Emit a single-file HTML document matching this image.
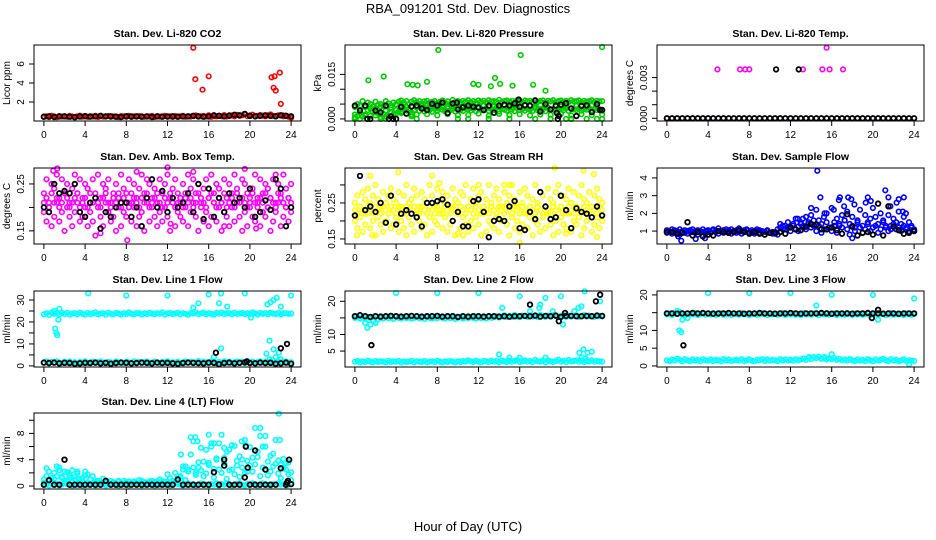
<!DOCTYPE html>
<html><head><meta charset="utf-8"><style>
html,body{margin:0;padding:0;background:#fff;}
svg{display:block;font-family:"Liberation Sans",sans-serif;}
</style></head><body>
<svg id="chart" width="936" height="540" viewBox="0 0 936 540" xmlns="http://www.w3.org/2000/svg">
<text x="468" y="13" text-anchor="middle" font-size="13">RBA_091201  Std. Dev. Diagnostics</text>
<text x="468" y="531" text-anchor="middle" font-size="13">Hour of Day (UTC)</text>
</svg>
<script>
// ---------- shared ----------
const X_TICKS = [0,4,8,12,16,20,24];
const X_LABELS = ["0","4","8","12","16","20","24"];
// ---------- CO2 ----------
const CO2_RED = [.45,.5,.42,.55,.48,.4,.52,.46,.5,.44,.53,.47,.41,.5,.56,.45,.49,.43,.51,.47,.55,.42,.5,.46,.48,.53,.44,.5,.47,.41,.52,.49,.45,.55,.43,.5,.46,.52,.48,.44,.51,.47,.53,.42,.49,.46,.5,.54,.45,.48,.43,.52,.47,.5,.55,.44,.49,.46,.51,.58,.45,.5,.53,.47,.6,.44,.52,.48,.55,.5,.62,.47,.53,.58,.5,.65,.55,.6,.7,.52,.58,.66,.5,.55,.62,.57,.5,.6,.68,.55,.52,.6,.58,.5,.55,.45,.35];
const CO2_RED_OUT = [[14.5,7.7],[14.7,4.4],[15.4,3.3],[16,4.7],[22.1,4.6],[22.4,4.7],[22.3,3.5],[22.5,3.2],[22.9,5.1],[23,1.8],[23.2,0.6]];
const CO2_BLACK = [.45,.5,.42,.48,.5,.45,.4,.47,.52,.46,.5,.55,.48,.5,.45,.42,.5,.47,.5,.45,.48,.42,.5,.45,.47,.5,.45,.48,.5,.55,.5,.45,.48,.6,.55,.5,.58,.65,.6,.75,.55,.5,.55,.6,.55,.5,.6,.55,.5];
const CO2_TICKS = [2,4,6];
const CO2_LABELS = ["2","4","6"];
// ---------- Pressure ----------
const PR_GREEN_A = [.004,.005,.0045,.006,.004,.0055,.005,.0042,.0058,.0048,.005,.0044,.006,.0052,.0046,.0055,.005,.0058,.0062,.0055,.006,.005,.0058,.0063,.0056,.006,.0052,.0059,.0061,.0054,.0057,.006,.0053,.0058,.0062,.0055,.0059,.0051,.0064,.0057,.006,.0055,.0061,.0058,.0063,.0056,.006,.0054,.0062,.0058,.0061,.0055,.0063,.0059,.006,.0057,.0064,.0056,.006,.0062,.0058,.0061,.0055,.0063,.006,.0057,.0062,.0059,.0061,.0056,.0063,.0058,.006,.0062,.0057,.0061,.0059,.0063,.0056,.006,.0062,.0058,.0061,.0057,.0063,.0059,.006,.0062,.0056,.0061,.0058,.006,.0063,.0057,.0061,.0059,.006];
const PR_GREEN_B = [.0005,.001,.002,.0008,.0015,.003,.001,.0025,.0012,.002,.0006,.0018,.0028,.001,.0022,.0015,.003,.0025,.002,.0035,.0028,.0032,.0022,.003,.0038,.0027,.0033,.0025,.0036,.003,.0024,.0034,.0028,.0037,.0031,.0026,.0035,.0029,.0033,.0025,.0038,.003,.0027,.0036,.0032,.0028,.0034,.0026,.0037,.0031,.0029,.0035,.0027,.0033,.003,.0038,.0025,.0034,.0031,.0028,.0036,.0032,.0026,.0037,.003,.0033,.0028,.0035,.0031,.0027,.0036,.0029,.0034,.0032,.0026,.0037,.003,.0033,.0028,.0035,.0031,.0029,.0036,.0027,.0034,.0032,.003,.0035,.0028,.0033,.0031,.0036,.0029,.0034,.003,.0032,.0028];
const PR_GREEN_C = [0,.002,.0045,.001,.0035,0,.0042,.002,.0048,.0025,.004,.0015,.0045,.0038,.0044,.004,.0035,.0045,.0042,.0048,.004,.0045,.0038,.005,.0042,.0046,.004,.0044,.0039,.0047,.0043,.0045,.0041,.0048,.0044,.004,.0046,.0042,0,.0045,.0041,.0047,0,.0044,.0046,.004,.0045,.0042,0];
const PR_GREEN_D = [.0015,.003,.0012,.0035,.0022,.0042,.0008,.0038,.0018,.0047,.0041,.0009,.0015,.0044,.0016,.0047,.0012,.0041,.0016,.0043,.0013,.0046,.0014,.0044,.0018,.0045,.0011,.0042,.0017,.0048,.0013,.0043,.0016,.0046,.0012,.0044,.0015,.0047,.0014,.0043,.0017,.0045,.0012,.0046,.0016,.0044,.0013,.0047,.0015];
const PR_GREEN_OUT = [[1.3,.013],[2.8,.0143],[5.1,.0117],[5.6,.0115],[6.1,.0113],[7,.0125],[8.1,.0232],[11.5,.0118],[12,.0115],[13.2,.011],[13.6,.0138],[14.1,.0118],[15.3,.0112],[16.1,.0215],[17.3,.0115],[18.5,.0095],[24,.0242],[0,0],[0.5,0],[3,0],[4,0],[6,0],[10,0],[11,0],[13,0],[15,0],[17.5,0],[20.5,0],[21,0],[22.5,0],[23.5,0],[19,0]];
const PR_BLACK = [.0045,.0028,.0045,0,.0028,.0022,.0045,.0008,0,.004,.0018,.0042,.0045,.0035,.003,.0051,.0045,.0055,.002,.0052,.0032,.0039,.0045,.0041,.0038,.003,.0045,.0021,.0045,.0048,.0045,.0052,.004,.0046,.0045,.0062,.0025,.005,.0032,.0045,.0048,.0053,.0035,.001,.0044,.0046,.0023,.005,.003];
const PR_BLACK_OUT = [[1.2,0],[3.3,0],[3.7,0],[19.7,0],[19.8,.001],[19.6,.002],[15.9,.0065],[9.9,.0055],[23.8,.003]];
const PR_TICKS = [0,.005,.01,.015];
const PR_LABELS = ["0.000","","","0.015"];
// ---------- Li-820 Temp ----------
const TP_MAG = [0,0,0,0,0,0,0,0,0,0,0,0,0,0,0,0,0,0,0,0,0,0,0,0,0,0,0,0,0,0,0,0,0,0,0,0,0,0,0,0,0,0,0,0,0,0,0,0,0];
const TP_MAG_OUT = [[4.9,.0036],[7.1,.0036],[7.6,.0036],[8,.0036],[13.2,.0036],[15.1,.0036],[15.5,.0052],[15.8,.0036],[17.1,.0036]];
const TP_BLACK = [0,0,0,0,0,0,0,0,0,0,0,0,0,0,0,0,0,0,0,0,0,0,0,0,0,0,0,0,0,0,0,0,0,0,0,0,0,0,0,0,0,0,0,0,0,0,0,0,0];
const TP_BLACK_OUT = [[10.6,.0036],[12.8,.0036]];
const TP_TICKS = [0,.001,.002,.003];
const TP_LABELS = ["0.000","","","0.003"];
// ---------- Amb box temp ----------
const AB_MAG_A = [.23,.26,.21,.25,.24,.27,.22,.26,.23,.25,.21,.24,.27,.23,.26,.22,.25,.24,.21,.26,.23,.27,.22,.25,.24,.26,.21,.23,.25,.22,.27,.24,.23,.26,.21,.25,.22,.24,.27,.23,.26,.25,.22,.24,.21,.26,.23,.25,.27,.22,.24,.26,.23,.21,.25,.22,.27,.24,.26,.23,.25,.21,.24,.26,.22,.27,.23,.25,.24,.21,.26,.22,.25,.23,.27,.24,.22,.26,.25,.23,.21,.24,.27,.22,.26,.23,.25,.24,.22,.26,.21,.25,.23,.27,.24,.22,.25];
const AB_MAG_B = [.19,.17,.2,.16,.18,.21,.17,.19,.15,.2,.18,.16,.19,.21,.17,.18,.2,.16,.19,.17,.14,.2,.18,.16,.21,.19,.17,.18,.15,.2,.16,.19,.18,.21,.17,.2,.16,.18,.19,.15,.21,.17,.2,.18,.16,.19,.17,.2,.18,.15,.21,.16,.19,.18,.17,.2,.16,.19,.21,.18,.15,.2,.17,.19,.16,.18,.21,.17,.2,.15,.19,.18,.16,.2,.17,.21,.18,.15,.19,.16,.2,.18,.17,.21,.16,.19,.18,.2,.15,.17,.19,.21,.16,.18,.2,.17,.19];
const AB_MAG_C = [.21,.22,.2,.23,.21,.22,.2,.21,.23,.22,.2,.21,.22,.23,.2,.21,.22,.2,.23,.21,.22,.21,.2,.22,.23,.21,.2,.22,.21,.23,.2,.22,.21,.2,.23,.22,.21,.2,.22,.21,.23,.2,.21,.22,.23,.21,.2,.22,.21,.23,.22,.2,.21,.22,.2,.23,.21,.22,.2,.21,.23,.22,.21,.2,.22,.23,.21,.2,.22,.21,.23,.2,.21,.22,.2,.23,.21,.22,.21,.2,.22,.23,.21,.2,.22,.21,.23,.2,.22,.21,.2,.23,.22,.21,.2,.22,.21];
const AB_MAG_OUT = [[0.9,.278],[1.3,.283],[9,.276],[14.5,.276],[12,.285],[8.1,.13],[12.3,.165],[5.5,.145],[17.5,.16],[20.6,.155],[22.5,.27],[19.5,.282]];
const AB_BLACK = [.2,.19,.25,.23,.235,.23,.25,.19,.18,.21,.22,.155,.19,.18,.2,.21,.21,.18,.2,.16,.22,.26,.2,.235,.19,.22,.2,.21,.23,.19,.25,.175,.24,.18,.22,.19,.23,.21,.22,.2,.24,.18,.19,.215,.195,.26,.24,.16,.2];
const AB_TICKS = [.15,.2,.25];
const AB_LABELS = ["0.15","","0.25"];
// ---------- Gas stream RH ----------
const RH_YEL_A = [.25,.27,.24,.28,.26,.29,.25,.27,.3,.26,.24,.28,.25,.27,.29,.26,.25,.28,.24,.27,.3,.25,.26,.29,.27,.24,.28,.26,.25,.3,.27,.24,.29,.26,.28,.25,.27,.24,.29,.26,.25,.28,.27,.3,.24,.26,.29,.25,.27,.28,.24,.26,.3,.25,.27,.29,.26,.24,.28,.25,.27,.3,.26,.24,.28,.25,.29,.27,.24,.26,.3,.25,.28,.27,.24,.29,.26,.25,.28,.3,.24,.27,.26,.29,.25,.28,.24,.27,.3,.26,.25,.28,.24,.27,.29,.26,.25];
const RH_YEL_B = [.2,.18,.21,.17,.19,.22,.18,.2,.16,.21,.19,.17,.2,.22,.18,.19,.21,.17,.2,.18,.16,.21,.19,.17,.22,.2,.18,.19,.16,.21,.17,.2,.19,.22,.18,.21,.17,.19,.2,.16,.22,.18,.21,.19,.17,.2,.18,.21,.19,.16,.22,.17,.2,.19,.18,.21,.17,.2,.22,.19,.16,.21,.18,.2,.17,.19,.22,.18,.21,.16,.2,.19,.17,.21,.18,.22,.19,.16,.2,.17,.21,.19,.18,.22,.17,.2,.19,.21,.16,.18,.2,.22,.17,.19,.21,.18,.2];
const RH_YEL_C = [.23,.22,.24,.23,.22,.24,.23,.22,.24,.23,.22,.24,.23,.22,.24,.23,.22,.24,.23,.22,.24,.23,.22,.24,.23,.22,.24,.23,.22,.24,.23,.22,.24,.23,.22,.24,.23,.22,.24,.23,.22,.24,.23,.22,.24,.23,.22,.24,.23,.22,.24,.23,.22,.24,.23,.22,.24,.23,.22,.24,.23,.22,.24,.23,.22,.24,.23,.22,.24,.23,.22,.24,.23,.22,.24,.23,.22,.24,.23,.22,.24,.23,.22,.24,.23,.22,.24,.23,.22,.24,.23,.22,.24,.23,.22,.24,.23];
const RH_YEL_OUT = [[1.5,.325],[4.2,.335],[7.5,.325],[8.2,.305],[12,.3],[14.5,.3],[15,.3],[16,.14],[22.2,.34],[23.2,.33],[19.4,.347],[0.2,.16],[1.7,.16],[10,.165],[10.5,.16],[20.5,.165],[23.5,.155]];
const RH_BLACK = [.215,.325,.23,.24,.225,.25,.195,.27,.19,.22,.23,.22,.21,.185,.25,.25,.255,.26,.245,.2,.225,.185,.185,.255,.26,.225,.155,.2,.205,.2,.24,.255,.18,.175,.225,.205,.28,.24,.205,.21,.27,.23,.18,.235,.225,.22,.21,.24,.215];
const RH_TICKS = [.15,.2,.25,.3];
const RH_LABELS = ["0.15","","0.25",""];
// ---------- Sample flow ----------
const SF_BLUE_A = [.9,1,.85,1.05,.95,.8,1,.9,.85,1.05,.95,.9,.8,1,.95,.85,1,.9,1.05,.95,.85,1,.9,.95,1.05,.85,1,.9,.95,.85,1,1.05,.9,.95,.85,1,.9,.95,.8,1,.9,.85,.95,.8,1.2,1.1,1.3,1.2,1,1.4,1.1,1.25,1.5,1.3,1.1,1.4,1.2,1.6,1,1.3,.9,1.1,1.5,1.2,1,1.3,.9,1.4,1.2,1.6,1.1,.8,1.3,1,1.5,1.2,.9,1.1,1.4,1,1.2,1.3,.9,1.1,1.5,1.2,1,1.3,1.4,1.1,1.2,1,1.3,1.1,1,1.2,1.05];
const SF_BLUE_B = [1.05,.95,1.1,.9,1,1.1,.95,1.05,1,.95,1.1,1,1.05,.95,1.1,1,1.05,.95,1.1,1,1.15,1,1.05,1.1,.95,1.1,1,1.05,1.15,1,1.05,1.1,.95,1.05,1,1.1,1.05,1,.95,1.05,.9,.95,.85,1.1,1.4,1.3,1.1,1.5,1.2,1.3,1.7,1,1.4,1.2,1.8,1.5,1.9,1.3,2.2,1.6,1.4,1.8,2,1.2,2.3,1.5,1.7,1.3,1.9,1.6,2.1,1.4,1.8,1.2,1.6,2.2,1.3,1.9,1.5,1.7,1.2,1.8,1.4,2,1.6,1.3,1.9,1.1,1.7,1.5,2.1,1.4,1.8,1.2,1.5,1.3,1.1];
const SF_BLUE_OUT = [[14.6,4.4],[14.9,2.9],[16.8,2.9],[16.7,2.75],[17.6,2.9],[17.9,2.8],[18.2,2.5],[19.5,2.9],[19.3,2.6],[19.8,2.7],[21.2,3.3],[21.5,2.9],[21.7,2.4],[22.5,2.8],[22.3,2.6],[23,2.9],[22.9,2.1],[23.2,2],[14,2.3],[15.3,2],[16.2,2.2],[17.2,2.4],[20,2.3],[13.2,1.7],[18,.6],[1.4,.45],[2.8,.55],[1.1,.7],[3.7,.6],[12.7,1.7]];
const SF_BLACK = [.95,.95,.85,.9,1.5,.75,.95,.7,.8,.75,1,.95,.9,.95,1.05,.95,.85,.95,.85,.8,.9,.9,.95,.85,1.2,1.1,1.05,1.25,1.4,1.35,1.1,1.1,1.2,1.05,.85,1.95,1.25,.75,.9,.95,.8,2.55,.75,2.4,1.25,1.05,.85,.9,1];
const SF_TICKS = [1,2,3,4];
const SF_LABELS = ["1","2","3","4"];
// ---------- Line 1 ----------
const L1_CYAN_U = [23.5,24,23.2,24.3,23.7,23.9,23.4,24.1,23.6,24.2,23.3,23.8,24,23.5,24.2,23.7,23.4,24.1,23.6,23.9,24.3,23.5,23.8,24,23.3,24.2,23.7,23.5,24.1,23.8,23.4,24,23.6,24.3,23.7,23.5,24.1,23.9,23.4,24,23.6,24.2,23.8,23.5,24,23.7,24.3,23.4,23.9,24.1,23.6,23.8,24.2,23.5,24,23.7,23.3,24.1,23.8,24.4,23.6,23.9,24.2,23.5,24,23.7,23.4,24.1,23.8,24.3,23.6,23.9,24,23.5,24.2,23.7,23.8,24.1,23.5,24,23.6,24.3,23.9,23.4,24.1,23.7,24,23.5,24.2,23.8,23.6,24.1,23.4,23.9,24,23.7,23.8];
const L1_CYAN_L = [1.5,2,1.2,1.8,1.4,2.1,1.6,1.3,1.9,1.5,2,1.4,1.7,1.2,1.8,1.5,2.1,1.3,1.6,1.9,1.4,1.7,2,1.5,1.2,1.8,1.6,1.4,2,1.5,1.7,1.3,1.9,1.6,1.4,2.1,1.5,1.8,1.3,1.7,2,1.4,1.6,1.9,1.5,1.2,1.8,1.6,2.1,1.4,1.7,1.5,1.9,1.3,1.6,2,1.5,1.8,1.4,1.7,2.2,1.5,1.9,1.6,1.3,2,1.7,1.4,1.8,1.5,2.1,1.6,1.9,1.4,1.7,2,1.5,1.8,1.3,2.2,1.6,1.9,1.4,1.7,2.1,1.5,1.8,1.6,2,1.4,1.7,1.5,1.9,1.6,1.8,1.5,1.7];
const L1_CYAN_OUT = [[1.1,17],[1.2,15],[1.3,14],[1.0,25],[1.5,26],[1.4,21],[4.3,33],[8,32],[12,32],[16,32.5],[17.2,33],[19.5,33],[14.5,26.5],[15,28.5],[17,28.5],[17.8,27],[17.2,8],[16.5,4],[20.1,22],[21.7,28],[22,29],[22.3,30],[22.6,31],[23,27],[21.9,11.5],[22.3,7.5],[21.6,5.5],[22.5,4],[23,3],[23.5,2],[24,32],[22.8,6],[21.9,3]];
const L1_BLACK = [1.5,1.3,1.5,1.2,1.4,1.3,1,1.2,1.4,1.3,1.5,1.2,1.4,1,1.3,1.5,1.4,1.2,1.3,1.5,1.4,1.2,1.5,1.3,1.4,1.2,1,1.3,1.5,1.4,1.3,1.2,1.5,1.4,.8,1.3,1.5,1.2,1.4,1.6,1.3,1.2,1.5,1.3,1.4,1,1.2,1.5,1];
const L1_BLACK_OUT = [[16.7,6],[23,8],[23.6,10],[19.7,2]];
const L1_TICKS = [0,5,10,15,20,25,30];
const L1_LABELS = ["0","","10","","20","","30"];
// ---------- Line 2 ----------
const L2_CYAN_U = [15,15.3,14.8,15.1,14.7,15.2,14.9,15.3,13.5,14.6,15,14.8,15.2,14.9,15.1,14.7,15.3,15,14.8,15.2,14.9,15.1,14.8,15,15.3,14.9,15.1,14.7,15.2,15,14.8,15.1,14.9,15.3,15,14.8,15.2,14.9,15.1,14.7,15,15.2,14.8,15.1,14.9,15.3,15,14.8,15.2,14.9,15.1,14.8,15.3,15,15.2,15.5,15.1,15.4,15.8,15.2,15.6,15.3,15.9,15.4,15.2,15.7,15.5,15.3,15.8,15.4,15.6,15.2,15.9,15.5,15.3,15.7,15.4,15.8,15.6,15.2,15.5,15.9,15.3,15.7,15.4,15.6,15.8,15.3,15.5,15.9,15.4,15.7,15.5,15.3,15.8,15.6,15.4];
const L2_CYAN_L = [1.8,2,1.6,1.9,1.7,2.1,1.8,1.6,2,1.7,1.9,1.8,1.6,2.1,1.7,1.9,1.8,2,1.6,1.9,1.7,1.8,2.1,1.6,1.9,1.8,1.7,2,1.6,1.8,1.9,1.7,2.1,1.8,1.6,1.9,1.7,2,1.8,1.6,1.9,1.7,2,1.8,2.2,1.9,1.7,2.1,1.8,1.6,2,1.9,1.7,2.1,1.8,2,1.6,2.2,1.9,1.7,2.1,1.8,2,2.3,1.7,1.9,2.2,1.8,2,1.7,2.3,1.9,1.8,2.1,1.6,2.2,1.9,1.7,2,2.4,1.8,2.1,1.7,2.3,1.9,2,2.2,1.8,2.1,1.7,2,1.9,2.2,1.8,2,1.9,1.8];
const L2_CYAN_OUT = [[1.2,12],[1.5,13],[1.0,13.5],[1.8,14],[4,22.5],[8,22.5],[12,22.5],[16,21.5],[18.5,21],[20,21.5],[22.3,23],[23.8,20],[14.3,18],[18,19],[17.9,18],[17,17],[19.2,17],[21.3,17],[21.7,18],[22,18.5],[20.2,13],[14,4],[15,3],[16,3],[18.5,3],[21.8,4.5],[22.2,5.5],[22.6,4.5],[23,4.8],[22,3],[22.4,2.8]];
const L2_BLACK = [15.5,15.8,15.5,15.3,15.5,15.4,15.5,15.6,15.5,15.4,15.5,15.6,15.5,15.4,15.5,15.5,15.6,15.4,15.5,15.5,15.3,15.5,15.4,15.5,15.5,15.4,15.5,15.5,15.4,15.5,15.4,15.5,15.5,15.6,15.5,15.7,15.4,15.6,15.5,15.7,15.3,15.6,15.6,15.5,15.5,15.6,15.5,15.7,15.6];
const L2_BLACK_OUT = [[1.6,6.8],[17,19],[23.4,20],[23.8,22],[19.8,14],[20.4,16.5]];
const L2_TICKS = [5,10,15,20];
const L2_LABELS = ["5","10","","20"];
// ---------- Line 3 ----------
const L3_CYAN_U = [14.5,14.8,14.3,14.9,14.6,15.2,14.4,14.2,13.5,14.7,14.5,14.9,14.3,14.6,14.8,14.4,14.7,14.5,14.9,14.3,14.6,14.8,14.4,14.7,14.5,14.3,14.8,14.6,14.4,14.9,14.5,14.7,14.3,14.6,14.8,14.4,14.5,14.9,14.6,14.3,14.7,14.5,14.8,14.4,14.6,14.9,14.3,14.7,14.5,14.8,14.4,14.6,14.3,14.9,14.5,14.7,14.4,14.8,14.6,14.3,14.7,14.5,14.9,14.4,14.6,14.8,14.3,14.7,14.5,14.4,14.9,14.6,14.3,14.8,14.5,14.7,14.4,14.6,14.9,14.3,14.5,14.7,14.4,14.8,14.6,14.3,14.5,14.9,14.4,14.7,14.5,14.6,14.3,14.8,14.5,14.4,14.6];
const L3_CYAN_L = [1.6,1.4,1.8,1.5,2,1.7,1.3,1.9,1.6,1.4,1.8,1.5,1.7,1.3,1.9,1.6,1.5,1.8,1.4,1.7,1.6,1.3,1.9,1.5,1.8,1.4,1.6,1.7,1.5,1.9,1.4,1.6,1.8,1.5,1.3,1.7,1.6,1.9,1.4,1.8,1.5,1.7,1.6,1.4,1.9,1.5,1.8,1.6,1.7,1.5,1.9,1.6,1.8,2.1,1.7,2.3,1.9,2.5,2.2,2.6,2,2.3,1.8,2.1,1.9,2.2,1.7,2,1.6,1.8,1.5,1.9,1.6,1.4,1.8,1.5,1.7,1.4,1.9,1.6,1.3,1.8,1.5,1.7,2,1.6,1.4,1.9,1.5,1.7,1.3,1.6,1.8,1.4,1.6,1.5,1.4];
const L3_CYAN_OUT = [[1.2,10],[1.4,9.5],[1,15.5],[1.5,13],[4,20.5],[8,20.5],[12,20.5],[16,20],[20,20],[24,19],[14.5,17],[20.5,13],[15.3,2.5],[16,3.3],[23.5,0.5],[13.8,2.5]];
const L3_BLACK = [14.8,14.8,14.7,14.8,14.8,14.9,14.8,14.9,14.8,14.7,14.8,14.8,14.9,14.8,14.8,14.7,14.8,14.8,14.9,14.8,14.8,14.7,14.8,14.8,14.9,14.8,14.7,14.8,14.8,14.8,14.9,14.8,14.7,14.8,14.8,14.8,14.7,14.8,14.8,14.9,14.8,14.8,14.7,14.8,14.8,14.7,14.8,14.8,14.8];
const L3_BLACK_OUT = [[1.6,5.8],[20.5,15.8],[19.9,13.5]];
const L3_TICKS = [0,5,10,15,20];
const L3_LABELS = ["0","5","10","","20"];
// ---------- Line 4 ----------
const L4_CYAN_L = [.2,.3,.1,.4,.2,.3,.1,.2,.4,.3,.2,.1,.3,.2,.4,.1,.3,.2,.2,.4,.1,.3,.2,.3,.1,.4,.2,.3,.2,.1,.4,.3,.2,.1,.3,.4,.2,.3,.1,.2,.4,.3,.2,.1,.3,.2,.4,.2,.3,.1,.2,.4,.3,.2,.1,.3,.4,.2,.3,.1,.2,.4,.3,.2,.1,.3,.2,.4,.1,.3,.2,.4,.3,.1,.2,.3,.4,.2,.1,.3,.2,.4,.3,.1,.2,.4,.3,.2,.1,.3,.2,.4,.2,.3,.1,.2,.3];
const L4_CYAN_A = [1,2.7,.8,1.2,2,1.5,2.8,1.4,2.2,.9,1.7,2.4,1,1.9,.6,1.2,2.2,1.8,1,1.5,.5,.8,.4,.3,.7,.5,.3,.6,.4,.8,.5,.3,.4,.7,.3,.6,.5,.4,.8,.3,.5,.7,.4,.6,.3,.5,.8,.4,.7,.5,.3,.6,.8,1.5,2.5,3,2.2,4.8,2.8,2,3.6,2.4,1.5,5.5,3.2,6,2.6,4,6.5,2,3.5,5.2,2.4,6.2,1.8,3.1,4.5,2.8,2,3.8,5.9,2.2,3.3,4.4,1.5,6,2.6,3.7,2.2,4.9,3.4,1.9,3.2,4.1,2.5,3.6,2.1];
const L4_CYAN_B = [.5,1.5,2.2,.7,1.1,3,2.4,1.2,.8,2.1,1.3,.6,1.4,2.2,1,.7,1.6,.5,1,.4,.8,.3,.6,1.1,.4,.3,.8,.5,.2,.7,.4,.8,.6,.3,.5,.7,.4,.9,.3,.6,.4,.5,.8,.3,.7,1,.4,.6,1.8,1.2,.8,2,1.5,1.2,3,.9,2.5,7.4,6.8,1.7,2.8,5.8,3.7,1.9,3.5,6.5,1.3,4.2,2.5,7.8,4.3,1.1,5.5,2.5,6.1,3.8,1.4,4,7,2.2,3.1,4.3,8.8,5.2,7.6,2.8,6,1.6,4.6,3,7,3.9,1.2,2.7,3.5,1.8,.9];
const L4_CYAN_OUT = [[22.8,11],[21,8.8],[19.2,6.8],[16,7.8],[14.7,7.4],[13.3,4.8],[16.5,6.5],[17.5,5.8],[21.5,7.6],[22.9,7],[19.6,6.2],[14.9,6.8]];
const L4_BLACK = [.2,.9,.2,.2,4,.2,.2,.2,.2,.2,.2,.2,.8,.2,.2,.2,.2,.2,.2,.2,.2,.2,.2,.2,.2,.2,1,.2,.2,.2,.2,.2,.2,2.1,.2,3.1,.2,.2,.2,1.3,.2,.2,.2,.2,.2,.2,2.7,.2,.3];
const L4_BLACK_OUT = [[17.5,4],[19.6,6],[19.8,2.8],[20.5,5.4],[21.5,2.5],[23.7,0.8],[23.8,4],[23.6,0.5]];
const L4_TICKS = [0,2,4,6,8,10];
const L4_LABELS = ["0","","4","","8",""];

// ---------- layout (not data) ----------
const COLS = [[34,301],[345,612],[657,924]];
const ROWS = [[45,121],[168,244],[291,367],[413,489]];
const PANELS = [
 {name:'co2',title:'Stan. Dev. Li-820 CO2',ylab:'Licor ppm',c:0,r:0,ylim:[0,8],ticks:CO2_TICKS,labels:CO2_LABELS,
  series:[{color:'#ff0000',arrays:[CO2_RED],out:CO2_RED_OUT},{color:'#000000',arrays:[CO2_BLACK],out:[]}]},
 {name:'pressure',title:'Stan. Dev. Li-820 Pressure',ylab:'kPa',c:1,r:0,ylim:[-0.0007,0.0249],ticks:PR_TICKS,labels:PR_LABELS,
  series:[{color:'#00cd00',arrays:[PR_GREEN_A,PR_GREEN_B,PR_GREEN_C,PR_GREEN_D],out:PR_GREEN_OUT},{color:'#000000',arrays:[PR_BLACK],out:PR_BLACK_OUT}]},
 {name:'li820-temp',title:'Stan. Dev. Li-820 Temp.',ylab:'degrees C',c:2,r:0,ylim:[-0.0002,0.0054],ticks:TP_TICKS,labels:TP_LABELS,
  series:[{color:'#ff00ff',arrays:[TP_MAG],out:TP_MAG_OUT},{color:'#000000',arrays:[TP_BLACK],out:TP_BLACK_OUT}]},
 {name:'amb-box-temp',title:'Stan. Dev. Amb. Box Temp.',ylab:'degrees C',c:0,r:1,ylim:[0.122,0.284],ticks:AB_TICKS,labels:AB_LABELS,
  series:[{color:'#ff00ff',arrays:[AB_MAG_A,AB_MAG_B,AB_MAG_C],out:AB_MAG_OUT},{color:'#000000',arrays:[AB_BLACK],out:[]}]},
 {name:'gas-stream-rh',title:'Stan. Dev. Gas Stream RH',ylab:'percent',c:1,r:1,ylim:[0.136,0.347],ticks:RH_TICKS,labels:RH_LABELS,
  series:[{color:'#ffff00',arrays:[RH_YEL_A,RH_YEL_B,RH_YEL_C],out:RH_YEL_OUT},{color:'#000000',arrays:[RH_BLACK],out:[]}]},
 {name:'sample-flow',title:'Stan. Dev. Sample Flow',ylab:'ml/min',c:2,r:1,ylim:[0.27,4.56],ticks:SF_TICKS,labels:SF_LABELS,
  series:[{color:'#0000ff',arrays:[SF_BLUE_A,SF_BLUE_B],out:SF_BLUE_OUT},{color:'#000000',arrays:[SF_BLACK],out:[]}]},
 {name:'line1-flow',title:'Stan. Dev. Line 1 Flow',ylab:'ml/min',c:0,r:2,ylim:[-0.5,34.1],ticks:L1_TICKS,labels:L1_LABELS,
  series:[{color:'#00ffff',arrays:[L1_CYAN_U,L1_CYAN_L],out:L1_CYAN_OUT},{color:'#000000',arrays:[L1_BLACK],out:L1_BLACK_OUT}]},
 {name:'line2-flow',title:'Stan. Dev. Line 2 Flow',ylab:'ml/min',c:1,r:2,ylim:[0.2,23.1],ticks:L2_TICKS,labels:L2_LABELS,
  series:[{color:'#00ffff',arrays:[L2_CYAN_U,L2_CYAN_L],out:L2_CYAN_OUT},{color:'#000000',arrays:[L2_BLACK],out:L2_BLACK_OUT}]},
 {name:'line3-flow',title:'Stan. Dev. Line 3 Flow',ylab:'ml/min',c:2,r:2,ylim:[-0.3,21.1],ticks:L3_TICKS,labels:L3_LABELS,
  series:[{color:'#00ffff',arrays:[L3_CYAN_U,L3_CYAN_L],out:L3_CYAN_OUT},{color:'#000000',arrays:[L3_BLACK],out:L3_BLACK_OUT}]},
 {name:'line4-flow',title:'Stan. Dev. Line 4 (LT) Flow',ylab:'ml/min',c:0,r:3,ylim:[-0.45,11.1],ticks:L4_TICKS,labels:L4_LABELS,
  series:[{color:'#00ffff',arrays:[L4_CYAN_L,L4_CYAN_A,L4_CYAN_B],out:L4_CYAN_OUT},{color:'#000000',arrays:[L4_BLACK],out:L4_BLACK_OUT}]}
];

const NS = 'http://www.w3.org/2000/svg';
const svg = document.getElementById('chart');
function mk(tag, attrs, parent){
  const e = document.createElementNS(NS, tag);
  for (const k in attrs) e.setAttribute(k, attrs[k]);
  parent.appendChild(e);
  return e;
}

PANELS.forEach(p => {
  const [x0,x1] = COLS[p.c], [y0,y1] = ROWS[p.r];
  const g = mk('g', {}, svg);
  
  
  const xs = h => x0 + (h + 0.96) / 25.92 * (x1 - x0);
  const ys = v => y1 - (v - p.ylim[0]) / (p.ylim[1] - p.ylim[0]) * (y1 - y0);

  const t = mk('text', {x:(x0+x1)/2, y:y0-8, 'text-anchor':'middle', 'font-size':10.5, 'font-weight':'bold'}, g);
  t.textContent = p.title;
  
  

  const pg = mk('g', {fill:'none'}, g);
  
  
  p.series.forEach(s => {
    const isBlack = s.color === '#000000';
    const sg = mk('g', {stroke:s.color, 'stroke-width': isBlack ? 1.8 : 1.6}, pg);
    
    
    const pts = [];
    s.arrays.forEach(arr => arr.forEach((v,i) => pts.push([i*24/(arr.length-1), v])));
    s.out.forEach(o => pts.push(o));
    pts.forEach(([h,v]) => {
      const c = mk('circle', {cx:xs(h).toFixed(1), cy:ys(v).toFixed(1), r:2.3}, sg);
      
      
    });
  });

  const box = mk('rect', {x:x0, y:y0, width:x1-x0, height:y1-y0, fill:'none', stroke:'#000', 'stroke-width':1}, g);
  
  

  const xa = mk('g', {}, g);
  
  
  X_TICKS.forEach((h,i) => {
    mk('line', {x1:xs(h), x2:xs(h), y1:y1, y2:y1+5, stroke:'#000'}, xa);
    const tl = mk('text', {x:xs(h), y:y1+17, 'text-anchor':'middle', 'font-size':10}, xa);
    tl.textContent = X_LABELS[i];
    
    
  });
  const ya = mk('g', {}, g);
  
  
  p.ticks.forEach((v,i) => {
    const y = ys(v);
    if (y < y0 - 0.5 || y > y1 + 0.5) return;
    mk('line', {x1:x0-5, x2:x0, y1:y, y2:y, stroke:'#000'}, ya);
    if (p.labels[i]) {
      const tl = mk('text', {x:0, y:0, 'text-anchor':'middle', 'font-size':10, transform:`translate(${x0-10},${y}) rotate(-90)`}, ya);
      tl.textContent = p.labels[i];
      
      
    }
  });
  const yl = mk('text', {x:0, y:0, 'text-anchor':'middle', 'font-size':10, transform:`translate(${x0-24},${(y0+y1)/2}) rotate(-90)`}, ya);
  yl.textContent = p.ylab;
  
  
});
</script>
</body></html>
